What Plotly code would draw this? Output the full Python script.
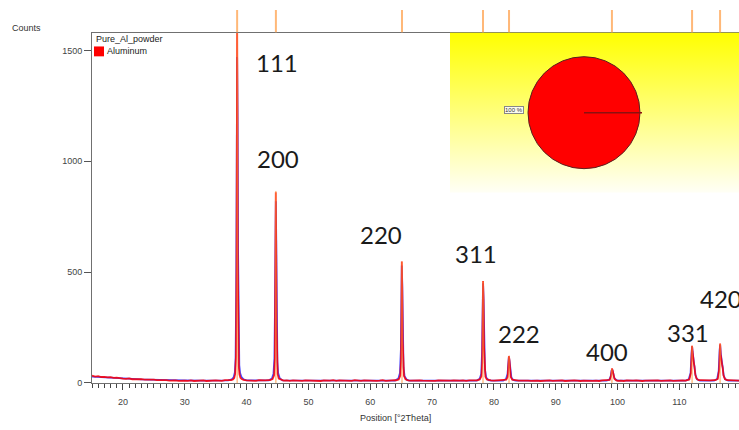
import numpy as np
import plotly.graph_objects as go

# ---------------- data ----------------
# observed background (counts) on a 0.5 deg grid from 15 to 120 deg 2Theta
bg_start, bg_step = 15.0, 0.5
obs_bg = [33,
          29, 31, 27, 28, 25, 26, 23, 24, 21, 20,
          19, 21, 17, 18, 16, 17, 15, 16, 14, 15,
          13, 14, 12, 13, 11, 13, 12, 10, 12, 11,
          10, 12, 9, 11, 10, 12, 9, 11, 10, 12,
          11, 10, 13, 12, 14, 15, 16, 14, 13, 12,
          11, 12, 10, 13, 11, 12, 13, 15, 16, 15,
          13, 11, 12, 10, 12, 11, 13, 10, 12, 11,
          10, 12, 11, 9, 12, 10, 11, 13, 10, 12,
          11, 10, 12, 10, 13, 11, 10, 12, 11, 10,
          12, 10, 11, 13, 10, 12, 11, 13, 14, 16,
          15, 13, 11, 12, 10, 12, 11, 10, 12, 11,
          10, 12, 11, 13, 10, 11, 12, 10, 11, 12,
          10, 12, 11, 13, 14, 15, 16, 14, 12, 11,
          12, 10, 11, 13, 14, 15, 13, 11, 12, 10,
          11, 10, 12, 11, 9, 11, 10, 12, 10, 11,
          10, 12, 9, 11, 10, 12, 11, 9, 11, 10,
          12, 10, 11, 9, 12, 13, 14, 12, 11, 10,
          11, 9, 12, 10, 11, 12, 10, 9, 11, 12,
          10, 11, 12, 10, 11, 9, 12, 10, 11, 13,
          12, 11, 13, 14, 15, 14, 13, 12, 11, 12,
          13, 14, 16, 15, 14, 13, 12, 11, 12, 10]

# observed peak profiles (2Theta, counts)
obs_peaks = [
    [(37.5, 13), (37.8, 16), (38.0, 22), (38.15, 40), (38.28, 120), (38.38, 520), (38.44, 1300),
     (38.47, 1650), (38.52, 1250), (38.58, 520), (38.66, 180), (38.75, 70), (38.85, 38),
     (39.0, 24), (39.2, 18), (39.5, 14)],
    [(43.8, 13), (44.2, 18), (44.45, 35), (44.58, 110), (44.66, 420), (44.72, 860), (44.78, 640),
     (44.84, 260), (44.92, 90), (45.02, 40), (45.2, 20), (45.6, 14)],
    [(64.2, 12), (64.6, 16), (64.85, 32), (64.98, 100), (65.05, 300), (65.1, 548), (65.17, 420),
     (65.24, 190), (65.33, 70), (65.45, 32), (65.7, 17), (66.1, 12)],
    [(77.3, 12), (77.7, 16), (77.98, 30), (78.1, 90), (78.18, 280), (78.24, 460), (78.31, 380),
     (78.39, 170), (78.5, 60), (78.62, 28), (78.85, 16), (79.2, 13)],
    [(81.6, 12), (82.0, 15), (82.22, 28), (82.33, 70), (82.42, 122), (82.5, 105), (82.6, 58),
     (82.72, 28), (82.95, 15), (83.3, 12)],
    [(98.3, 11), (98.7, 14), (98.92, 30), (99.02, 55), (99.1, 66), (99.2, 55), (99.32, 32),
     (99.5, 18), (99.8, 12)],
    [(111.2, 12), (111.6, 16), (111.85, 45), (111.97, 120), (112.04, 168), (112.12, 140),
     (112.22, 95), (112.33, 90), (112.42, 75), (112.55, 40), (112.75, 20), (113.1, 13)],
    [(115.8, 13), (116.2, 18), (116.42, 60), (116.52, 140), (116.58, 178), (116.66, 130),
     (116.75, 90), (116.88, 85), (116.98, 70), (117.12, 35), (117.35, 18), (117.7, 13)],
]

# calculated profile: smooth background anchors and peaks
calc_bg = [(15, 29), (16, 27), (17, 25), (18, 23.5), (19, 22), (20, 20.5), (21, 19), (22, 17.5),
           (23, 16), (24, 15), (25, 14), (26, 13), (27, 12.5), (28, 12), (30, 11.5), (33, 11),
           (36, 11), (40, 11), (45, 11), (50, 11), (55, 11), (60, 11), (65, 11), (70, 11),
           (75, 11), (80, 11), (85, 11), (90, 11), (95, 11), (100, 11), (105, 11), (110, 11),
           (115, 11), (120, 11)]
calc_peaks = [
    [(37.0, 12), (37.6, 16), (37.9, 25), (38.1, 48), (38.22, 110), (38.32, 400), (38.40, 1050),
     (38.47, 1470), (38.54, 1200), (38.62, 600), (38.72, 220), (38.82, 80), (38.95, 45),
     (39.15, 28), (39.5, 17), (40.0, 12)],
    [(43.6, 12), (44.1, 20), (44.35, 42), (44.5, 110), (44.6, 360), (44.68, 700), (44.73, 820),
     (44.8, 640), (44.88, 280), (44.98, 95), (45.1, 45), (45.35, 22), (45.8, 12)],
    [(64.0, 11), (64.55, 20), (64.8, 45), (64.95, 150), (65.03, 400), (65.1, 530), (65.18, 440),
     (65.27, 200), (65.38, 70), (65.55, 30), (65.9, 15), (66.3, 11)],
    [(77.2, 11), (77.7, 19), (77.95, 42), (78.08, 140), (78.17, 360), (78.24, 450), (78.32, 380),
     (78.42, 170), (78.55, 60), (78.75, 25), (79.1, 13), (79.6, 11)],
    [(81.5, 11), (81.95, 18), (82.2, 40), (82.32, 85), (82.42, 118), (82.52, 100), (82.65, 55),
     (82.82, 25), (83.1, 14), (83.5, 11)],
    [(98.2, 11), (98.7, 16), (98.9, 32), (99.02, 55), (99.1, 62), (99.2, 55), (99.32, 38),
     (99.48, 22), (99.8, 13), (100.2, 11)],
    [(111.0, 11), (111.5, 17), (111.8, 45), (111.95, 130), (112.04, 165), (112.13, 140),
     (112.23, 100), (112.34, 92), (112.45, 70), (112.6, 35), (112.85, 17), (113.3, 11)],
    [(115.6, 11), (116.1, 18), (116.35, 55), (116.5, 150), (116.58, 172), (116.67, 135),
     (116.77, 95), (116.9, 88), (117.0, 70), (117.15, 35), (117.4, 17), (117.9, 11)],
]

# reference pattern (sticks)
ref_pos = [38.47, 44.74, 65.13, 78.23, 82.44, 99.08, 112.04, 116.57]
ref_int = [1700, 866, 548, 458, 122, 64, 168, 176]

# peak labels (hkl)
hkl = ["111", "200", "220", "311", "222", "400", "331", "420"]

# phase composition
phase_names = ["Aluminum"]
phase_pct = [100]


# ---------------- build series ----------------
def merge(bg_pts, peaks):
    wins = [(p[0][0], p[-1][0]) for p in peaks]
    pts = [pt for pt in bg_pts if not any(a <= pt[0] <= b for a, b in wins)]
    for p in peaks:
        pts += p
    pts.sort()
    return [p[0] for p in pts], [p[1] for p in pts]


bg_x = [bg_start + i * bg_step for i in range(len(obs_bg))]
obs_x, obs_y = merge(list(zip(bg_x, obs_bg)), obs_peaks)
calc_x, calc_y = merge(list(calc_bg), calc_peaks)

stick_x, stick_y, top_x, top_y = [], [], [], []
for p, h in zip(ref_pos, ref_int):
    stick_x += [p, p, None]
    stick_y += [0, h, None]
    top_x += [p, p, None]
    top_y += [0, 1, None]

W, H = 739, 430
px = lambda v: v / W
py = lambda v: 1 - v / H

fig = go.Figure()

# yellow gradient inset panel
fig.add_trace(go.Scatter(x=[0, 1, 1, 0, 0], y=[0, 0, 1, 1, 0], fill="toself", mode="lines",
                         line=dict(width=0), xaxis="x3", yaxis="y3", hoverinfo="skip",
                         fillgradient=dict(type="vertical",
                                           colorscale=[[0, "#fffff6"], [1, "#ffff00"]]),
                         showlegend=False))

fig.add_trace(go.Scatter(x=calc_x, y=calc_y, mode="lines",
                         line=dict(color="rgba(40,40,255,0.85)", width=1.8),
                         showlegend=False))
fig.add_trace(go.Scatter(x=obs_x, y=obs_y, mode="lines",
                         line=dict(color="rgba(255,0,0,0.85)", width=1.8),
                         showlegend=False))
fig.add_trace(go.Scatter(x=stick_x, y=stick_y, mode="lines",
                         line=dict(color="rgba(255,150,60,0.9)", width=1),
                         showlegend=False))
fig.add_trace(go.Scatter(x=top_x, y=top_y, mode="lines", yaxis="y2",
                         line=dict(color="#ffb878", width=2), showlegend=False))

# pie
fig.add_trace(go.Pie(values=phase_pct, labels=phase_names, sort=False, rotation=90,
                     textinfo="none", hoverinfo="label+percent",
                     marker=dict(colors=["#ff0000"], line=dict(color="#5a2020", width=1)),
                     domain=dict(x=[px(528), px(640)], y=[py(172), py(56)]),
                     showlegend=False))

fig.update_layout(
    width=W, height=H, margin=dict(l=0, r=0, t=0, b=0),
    paper_bgcolor="white", plot_bgcolor="rgba(0,0,0,0)",
    xaxis=dict(domain=[px(92), 1], range=[15, 119.63], showgrid=False, zeroline=False,
               showline=True, linecolor="#707070", linewidth=1, mirror=True,
               ticks="outside", tickcolor="#444", ticklen=6, dtick=10, tick0=0,
               ticklabelstandoff=4,
               tickfont=dict(family="Liberation Sans", size=9, color="#444"),
               minor=dict(dtick=1, ticks="outside", ticklen=4, tickcolor="#444")),
    yaxis=dict(domain=[py(387.5), py(33)], range=[0, 1580], showgrid=False, zeroline=False,
               showline=True, linecolor="#707070", linewidth=1,
               ticks="outside", tickcolor="#555", ticklen=7, tickvals=[0, 500, 1000, 1500],
               tickfont=dict(family="Liberation Sans", size=9, color="#444")),
    yaxis2=dict(domain=[py(33), py(10)], range=[0, 1], anchor="x", visible=False),
    xaxis3=dict(domain=[px(450), 1], range=[0, 1], anchor="y3", visible=False),
    yaxis3=dict(domain=[py(195), py(33)], range=[0, 1], anchor="x3", visible=False),
)

# hkl labels
lab_x = [44.87, 45.03, 61.70, 77.07, 84.03, 98.27, 111.37, 116.71]
lab_y = [1446, 1014, 671, 586, 221, 140, 229, 381]
for t, x, y in zip(hkl, lab_x, lab_y):
    fig.add_annotation(x=x, y=y, xref="x", yref="y", text=t, showarrow=False,
                       font=dict(family="Lato", size=24, color="#1a1a1a"))

# texts
fig.add_annotation(x=px(10), y=py(28), xref="paper", yref="paper", text="Counts",
                   showarrow=False, xanchor="left", yanchor="middle",
                   font=dict(family="Liberation Sans", size=9, color="#333"))
fig.add_annotation(x=px(395), y=py(423), xref="paper", yref="paper", text="Position [°2Theta]",
                   showarrow=False, xanchor="center", yanchor="middle",
                   font=dict(family="Liberation Sans", size=9, color="#333"))
fig.add_annotation(x=px(94), y=py(39), xref="paper", yref="paper", text="Pure_Al_powder",
                   showarrow=False, xanchor="left", yanchor="middle",
                   font=dict(family="Liberation Sans", size=9, color="#222"))
fig.add_annotation(x=px(105), y=py(52), xref="paper", yref="paper", text=phase_names[0],
                   showarrow=False, xanchor="left", yanchor="middle",
                   font=dict(family="Liberation Sans", size=9, color="#222"))
fig.add_shape(type="rect", xref="paper", yref="paper", x0=px(94), x1=px(104), y0=py(57), y1=py(47),
              fillcolor="#ff0000", line=dict(width=0))
fig.add_annotation(x=px(514), y=py(111), xref="paper", yref="paper",
                   text=f"{phase_pct[0]} %", showarrow=False, xanchor="center", yanchor="middle",
                   font=dict(family="Liberation Sans", size=6, color="#333"),
                   bgcolor="#fbfbf0", bordercolor="#888", borderwidth=1, borderpad=0)
# slice boundary line
fig.add_shape(type="line", xref="paper", yref="paper", x0=px(584), x1=px(642), y0=py(114), y1=py(114),
              line=dict(color="#8b1010", width=1.5))

fig.write_html("out.html")
